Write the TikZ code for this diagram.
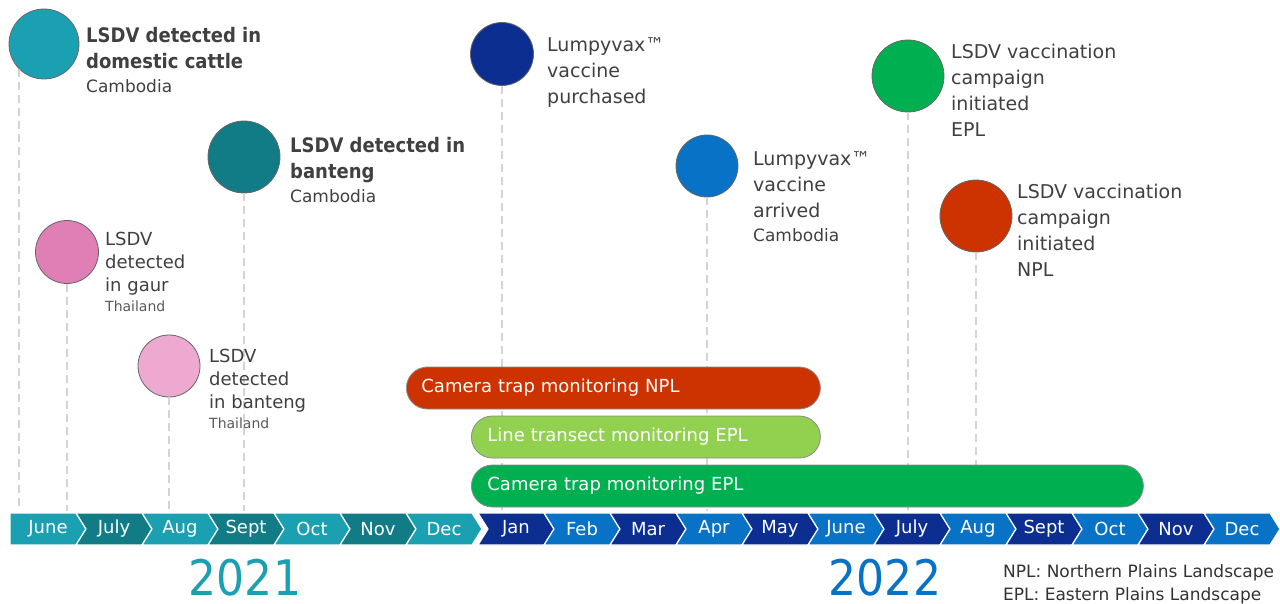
\documentclass[tikz,border=0pt]{standalone}
\usepackage{fontspec}
\setmainfont{DejaVu Sans}
\newfontfamily\condensed{DejaVu Sans Condensed}
\usetikzlibrary{positioning}

\definecolor{teallight}{HTML}{1BA0B2}
\definecolor{tealdark}{HTML}{127C86}
\definecolor{navy}{HTML}{0D2E91}
\definecolor{skyblue}{HTML}{0872C6}
\definecolor{pinkdark}{HTML}{E07EB6}
\definecolor{pinklight}{HTML}{EDA9D0}
\definecolor{nplred}{HTML}{CC3300}
\definecolor{eplgreen}{HTML}{00B050}
\definecolor{linegreen}{HTML}{92D050}
\definecolor{textgray}{HTML}{404040}

\newcommand{\headfont}{\condensed\fontsize{20}{26}\selectfont}
\newcommand{\bodyfont}{\fontsize{18}{23}\selectfont}
\newcommand{\vaxfont}{\fontsize{19}{26}\selectfont}
\newcommand{\placefont}{\normalfont\fontsize{17}{20}\selectfont}

\begin{document}
\begin{tikzpicture}[x=1pt, y=-1pt,
    event/.style={circle, draw=black!60, line width=0.8pt, inner sep=0pt},
    stem/.style={draw=black!17, line width=2.2pt, dash pattern=on 8pt off 5pt},
    eventtext/.style={anchor=north west, inner sep=0pt, align=left, text=textgray},
    bar/.style={anchor=west, draw=black!45, line width=0.8pt, rounded corners=21pt,
        minimum height=42pt, inner xsep=15pt, align=left, text=white,
        font=\fontsize{18}{22}\selectfont},
    month/.style={draw=white, line width=1.2pt},
    monthtext/.style={text=white, font=\fontsize{18}{22}\selectfont, inner sep=0pt},
    year/.style={inner sep=0pt, font=\condensed\fontsize{49}{55}\selectfont}]
    \useasboundingbox (0,0) rectangle (1280,604);
    \coordinate (axis) at (0,511);

    % events
    \node[event, fill=teallight, minimum size=70pt] (cattle) at (44,44) {};
    \node[event, fill=tealdark, minimum size=72pt] (bantengkh) at (244,157) {};
    \node[event, fill=pinkdark, minimum size=63pt] (gaur) at (67,252) {};
    \node[event, fill=pinklight, minimum size=62pt] (bantength) at (169,366) {};
    \node[event, fill=navy, minimum size=63pt] (bought) at (502,54) {};
    \node[event, fill=skyblue, minimum size=62pt] (arrived) at (707,166) {};
    \node[event, fill=eplgreen, minimum size=72pt] (vaxepl) at (908,76) {};
    \node[event, fill=nplred, minimum size=72pt] (vaxnpl) at (976,216) {};

    \draw[stem] (cattle.225) -- (cattle.225 |- axis);
    \foreach \e in {bantengkh, gaur, bantength, bought, arrived, vaxepl, vaxnpl}
        \draw[stem] (\e.south) -- (\e.south |- axis);

    \node[eventtext, font=\headfont\bfseries] (cattletext) at (86,27)
        {LSDV detected in\\domestic cattle\\[-2pt]{\placefont Cambodia}};
    \node[eventtext, font=\headfont\bfseries] (bantengkhtext) at (290,137)
        {LSDV detected in\\banteng\\[-2pt]{\placefont Cambodia}};
    \node[eventtext, font=\bodyfont] (gaurtext) at (105,232)
        {LSDV\\detected\\in gaur\\[-3pt]{\fontsize{14}{17}\selectfont\color{black!65}Thailand}};
    \node[eventtext, font=\bodyfont] (bantengthtext) at (209,349)
        {LSDV\\detected\\in banteng\\[-3pt]{\fontsize{14}{17}\selectfont\color{black!65}Thailand}};
    \node[eventtext, font=\vaxfont] (boughttext) at (547,37)
        {Lumpyvax™\\vaccine\\purchased};
    \node[eventtext, font=\vaxfont] (arrivedtext) at (753,151)
        {Lumpyvax™\\vaccine\\arrived\\[-2pt]{\placefont Cambodia}};
    \node[eventtext, font=\vaxfont] (vaxepltext) at (951,44)
        {LSDV vaccination\\campaign\\initiated\\EPL};
    \node[eventtext, font=\vaxfont] (vaxnpltext) at (1017,184)
        {LSDV vaccination\\campaign\\initiated\\NPL};

    % monitoring periods
    \node[bar, fill=nplred, text width=384pt] (camnpl) at (406,388) {Camera trap monitoring NPL};
    \node[bar, fill=linegreen, inner xsep=16pt, text width=317pt] (lineepl) at (471,437) {Line transect monitoring EPL};
    \node[bar, fill=eplgreen, inner xsep=16pt, text width=640pt] (camepl) at (471,486) {Camera trap monitoring EPL};

    % months
    \foreach \m [count=\i from 0] in {June,July,Aug,Sept,Oct,Nov,Dec} {
        \pgfmathsetmacro\a{10+66*\i}
        \pgfmathsetmacro\n{\i==0 ? 0 : 10}
        \ifodd\i \def\c{tealdark}\else\def\c{teallight}\fi
        \draw[month, fill=\c] (\a,513) -- ++(66,0) -- ++(10,16) -- ++(-10,16)
            -- ++(-66,0) -- ++(\n,-16) -- cycle;
        \node[monthtext] (one\i) at (\a+38,529) {\m};
    }
    \foreach \m [count=\i from 0] in {Jan,Feb,Mar,Apr,May,June,July,Aug,Sept,Oct,Nov,Dec} {
        \pgfmathsetmacro\a{478+66*\i}
        \ifodd\i \def\c{skyblue}\else\def\c{navy}\fi
        \draw[month, fill=\c] (\a,513) -- ++(66,0) -- ++(10,16) -- ++(-10,16)
            -- ++(-66,0) -- ++(10,-16) -- cycle;
        \node[monthtext] (two\i) at (\a+38,529) {\m};
    }

    \node[year, text=teallight] (yone) at (245,578) {2021};
    \node[year, text=skyblue] (ytwo) at (885,578) {2022};

    \node[anchor=north west, inner sep=0pt, align=left, text=black!80,
        font=\fontsize{17}{23}\selectfont] (legend) at (1003,564)
        {NPL: Northern Plains Landscape\\EPL: Eastern Plains Landscape};
\end{tikzpicture}
\end{document}
